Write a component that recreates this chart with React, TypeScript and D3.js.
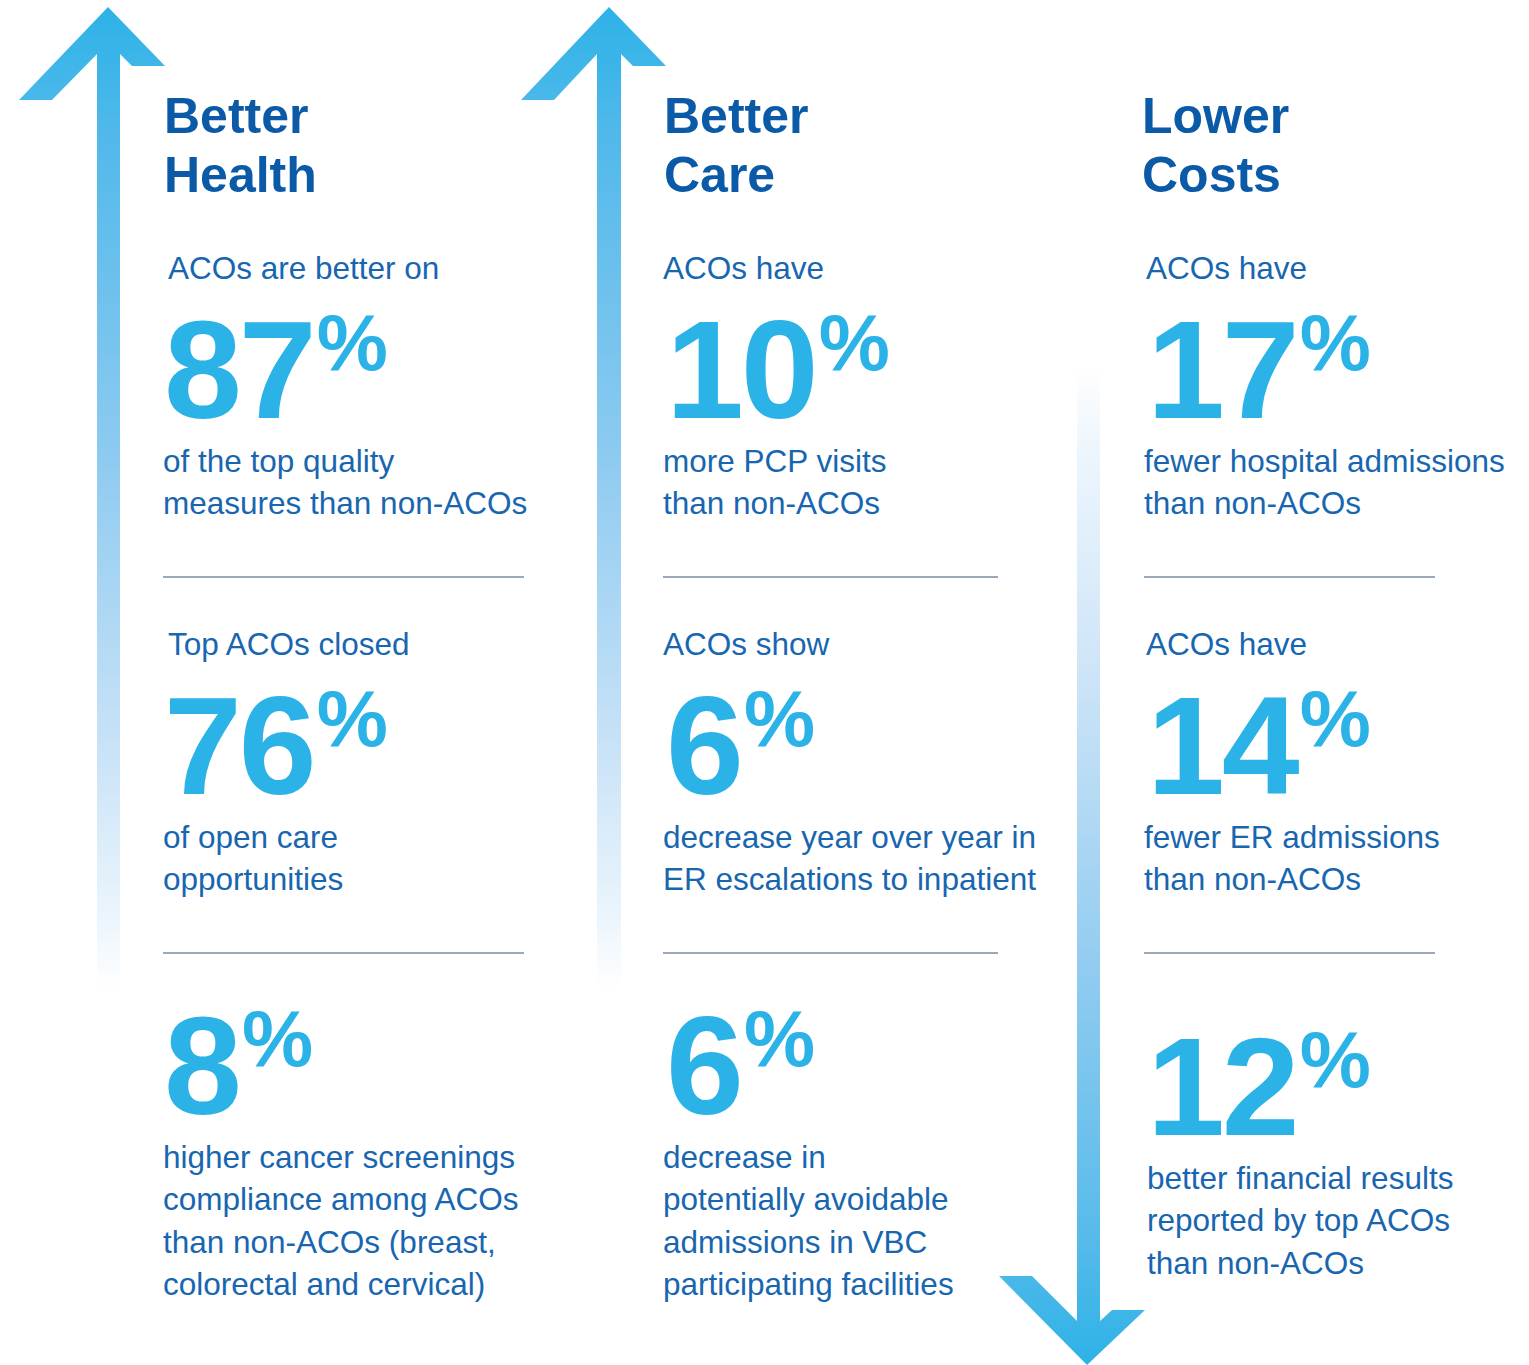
import { useMemo } from 'react';
import * as d3 from 'd3';

// columns of the infographic
const headings = [['Better', 'Health'], ['Better', 'Care'], ['Lower', 'Costs']];
const values = [
  [87, 76, 8],
  [10, 6, 6],
  [17, 14, 12],
];
const intros = [
  ['ACOs are better on', 'Top ACOs closed', ''],
  ['ACOs have', 'ACOs show', ''],
  ['ACOs have', 'ACOs have', ''],
];
const descriptions = [
  [
    ['of the top quality', 'measures than non-ACOs'],
    ['of open care', 'opportunities'],
    ['higher cancer screenings', 'compliance among ACOs', 'than non-ACOs (breast,', 'colorectal and cervical)'],
  ],
  [
    ['more PCP visits', 'than non-ACOs'],
    ['decrease year over year in', 'ER escalations to inpatient'],
    ['decrease in', 'potentially avoidable', 'admissions in VBC', 'participating facilities'],
  ],
  [
    ['fewer hospital admissions', 'than non-ACOs'],
    ['fewer ER admissions', 'than non-ACOs'],
    ['better financial results', 'reported by top ACOs', 'than non-ACOs'],
  ],
];

const W = 1529;
const H = 1365;
const FONT = '"Liberation Sans", Arial, Helvetica, sans-serif';
const HEAD_COLOR = '#0a5aa8';
const NUM_COLOR = '#2bb3e8';
const TEXT_COLOR = '#1866b0';
const RULE_COLOR = '#7b8da4';

// layout
const colX = [163, 663, 1144];
const introDx = [5, 0, 2];
const numDx = [1, 3, 3];
const ruleEnd = [524, 998, 1435];
const rules = [577, 953];

const arrows = [
  { shaftX: [97, 120], tip: [108, 7], wingL: [[19, 100], [52, 100]], wingR: [[132, 66], [165, 66]], neck: 54, end: 990 },
  { shaftX: [597, 621], tip: [609, 7], wingL: [[521, 100], [554, 100]], wingR: [[633, 66], [666, 66]], neck: 54, end: 990 },
];

export default function App() {
  const line = useMemo(() => d3.line(), []);
  // vertical offset of each row block (third row has no intro line)
  const rowTop = (c: number, r: number) => (r === 0 ? 0 : r === 1 ? 376 : c === 2 ? 717 : 696);

  const upShaft = (a: any) =>
    line([[a.shaftX[0], a.neck], [a.shaftX[1], a.neck], [a.shaftX[1], a.end], [a.shaftX[0], a.end]]) + 'Z';
  const upHead = (a: any) =>
    line([
      a.tip,
      a.wingR[1],
      a.wingR[0],
      [a.shaftX[1], a.neck],
      [a.shaftX[0], a.neck],
      a.wingL[1],
      a.wingL[0],
    ]) + 'Z';

  // down arrow in the third column
  const dShaft = line([[1077, 365], [1100, 365], [1100, 1321], [1077, 1321]]) + 'Z';
  const dHead = line([
    [1087, 1365],
    [999, 1276],
    [1032, 1276],
    [1077, 1321],
    [1100, 1321],
    [1112, 1310],
    [1145, 1310],
  ]) + 'Z';

  return (
    <svg width={W} height={H} style={{ position: 'absolute', left: 0, top: 0 }} fontFamily={FONT}>
      <defs>
        <linearGradient id="upGrad" gradientUnits="userSpaceOnUse" x1="0" y1="7" x2="0" y2="990">
          <stop offset="0" stopColor="#29b1e7" />
          <stop offset="0.12" stopColor="#4fb8ea" />
          <stop offset="0.45" stopColor="#8ccaf0" />
          <stop offset="0.75" stopColor="#c8e2f7" />
          <stop offset="0.92" stopColor="#eaf4fc" />
          <stop offset="1" stopColor="#ffffff" />
        </linearGradient>
        <linearGradient id="upHeadGrad" gradientUnits="userSpaceOnUse" x1="0" y1="7" x2="0" y2="100">
          <stop offset="0" stopColor="#2db2e7" />
          <stop offset="1" stopColor="#4ab8ea" />
        </linearGradient>
        <linearGradient id="downGrad" gradientUnits="userSpaceOnUse" x1="0" y1="365" x2="0" y2="1365">
          <stop offset="0" stopColor="#ffffff" />
          <stop offset="0.08" stopColor="#eef6fd" />
          <stop offset="0.3" stopColor="#cfe5f8" />
          <stop offset="0.6" stopColor="#92ccf0" />
          <stop offset="0.88" stopColor="#55baea" />
          <stop offset="1" stopColor="#2db2e7" />
        </linearGradient>
      </defs>

      {arrows.map((a, i) => (
        <g key={i}>
          <path d={upShaft(a)} fill="url(#upGrad)" />
          <path d={upHead(a)} fill="url(#upHeadGrad)" />
        </g>
      ))}
      <path d={dShaft} fill="url(#downGrad)" />
      <path d={dHead} fill="url(#downGrad)" />

      {headings.map((h, c) => (
        <text key={'h' + c} fill={HEAD_COLOR} fontSize={50} fontWeight={700}>
          <tspan x={colX[c] + (c === 2 ? -2 : 1)} y={133}>{h[0]}</tspan>
          <tspan x={colX[c] + (c === 2 ? -2 : 1)} y={192}>{h[1]}</tspan>
        </text>
      ))}

      {rules.map((y, r) =>
        colX.map((x, c) => (
          <line key={'r' + r + c} x1={x} x2={ruleEnd[c]} y1={y} y2={y} stroke={RULE_COLOR} strokeWidth={1.6} />
        )),
      )}

      {values.map((col, c) =>
        col.map((v, r) => {
          const x = colX[c];
          const top = rowTop(c, r);
          const hasIntro = intros[c][r] !== '';
          const numBase = top + 418;
          const desc = descriptions[c][r];
          return (
            <g key={'v' + c + r}>
              {hasIntro && (
                <text x={x + introDx[c]} y={top + 279} fill={TEXT_COLOR} fontSize={31.5}>
                  {intros[c][r]}
                </text>
              )}
              <text x={x + numDx[c]} y={numBase} fill={NUM_COLOR} fontWeight={700}>
                <tspan fontSize={140} letterSpacing={-3}>{v}</tspan>
                <tspan fontSize={80} dx={3} dy={-48}>%</tspan>
              </text>
              <text fill={TEXT_COLOR} fontSize={31.5}>
                {desc.map((t, k) => (
                  <tspan key={k} x={x + (c === 2 && r === 2 ? 3 : 0)} y={numBase + 54 + k * 42.4}>
                    {t}
                  </tspan>
                ))}
              </text>
            </g>
          );
        }),
      )}
    </svg>
  );
}
